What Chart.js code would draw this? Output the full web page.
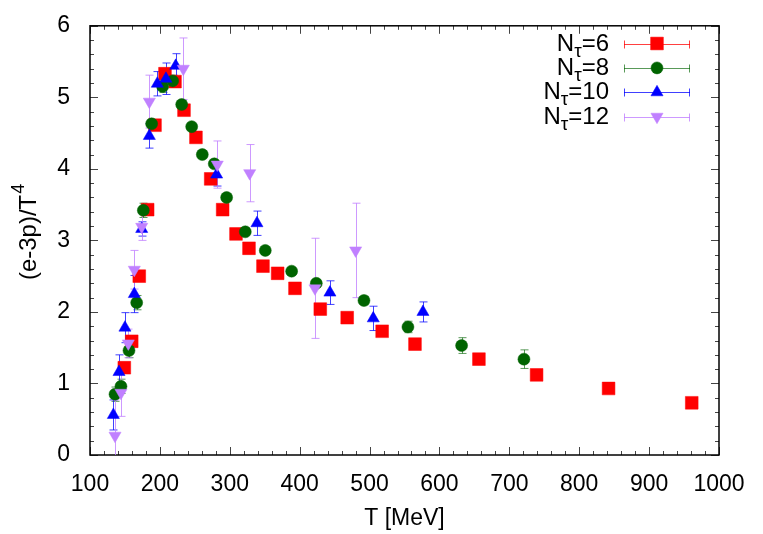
<!DOCTYPE html>
<html><head><meta charset="utf-8">
<script src="https://cdn.jsdelivr.net/npm/chart.js@4/dist/chart.umd.min.js"></script>
<style>html,body{margin:0;padding:0;background:#fff}</style>
</head><body>
<canvas id="c" width="763" height="534"></canvas>
<script>
// ---- data ----
const T6 = [149.1,159.7,170.5,182.5,193,207.3,221.6,234.5,251.6,272.7,289.8,308.9,327.5,347.5,368.5,393.3,429.5,468,518,565,656.5,739,842,961];
const V6 = [1.22,1.59,2.50,3.43,4.61,5.33,5.22,4.82,4.44,3.86,3.43,3.09,2.89,2.64,2.54,2.33,2.04,1.92,1.73,1.55,1.34,1.12,0.93,0.73];
const E6 = [0.03,0.03,0.03,0.03,0.03,0.03,0.03,0.03,0.03,0.03,0.03,0.03,0.03,0.03,0.03,0.03,0.03,0.03,0.03,0.03,0.03,0.03,0.03,0.03];

const T8 = [135.8,144.3,155.8,166.8,176.3,188.2,203.9,218.3,231.2,245.5,260.7,277.8,295.5,322.2,350.8,388.5,423.8,492,554.9,631.7,720.9];
const V8 = [0.85,0.96,1.46,2.13,3.42,4.63,5.15,5.23,4.90,4.59,4.20,4.07,3.60,3.12,2.86,2.57,2.40,2.16,1.79,1.53,1.34];
const E8 = [0.1,0.1,0.1,0.1,0.1,0.06,0.08,0.08,0.05,0.04,0.04,0.04,0.04,0.04,0.04,0.04,0.05,0.06,0.08,0.11,0.13];

const T10 = [133.4,141.5,150,163.4,174,184.9,196.3,208.7,222.6,281.2,338.9,443.3,505.3,576.4];
const V10 = [0.56,1.16,1.78,2.25,3.16,4.46,5.19,5.26,5.44,3.92,3.24,2.27,1.91,2.00];
const E10 = [0.21,0.24,0.21,0.26,0.10,0.17,0.17,0.22,0.17,0.16,0.17,0.165,0.17,0.14];

const T12 = [135.8,144.3,154.8,163.4,174,184.9,233.5,282.1,328.5,421.9,480.1];
const V12 = [0.27,0.87,1.56,2.59,3.19,4.94,5.40,4.06,3.94,2.33,2.86];
const E12 = [0.5,0.33,0.2,0.27,0.19,0.37,0.43,0.33,0.40,0.70,0.66];

const NTAU = ['6','8','10','12'];
const X_TICKS = {min:100, max:1000, major:100, minor:20};
const Y_TICKS = {min:0, max:6, major:1, minor:0.2};
const X_TITLE = 'T [MeV]';
const Y_TITLE_MAIN = '(e-3p)/T';
const Y_TITLE_SUP = '4';

const FONT = '"Liberation Sans", Arial, Helvetica, sans-serif';

function pts(T,V,E){ return T.map((t,i)=>({x:t,y:V[i],e:E[i]})); }

const styles = [
  {color:'#ff0000', err:'rgba(255,0,0,0.75)', style:'rect', r:9, rot:0},
  {color:'#006400', err:'rgba(0,100,0,0.65)', style:'circle', r:6, rot:0},
  {color:'#0000ff', err:'rgba(0,0,255,0.75)', style:'triangle', r:7, rot:0},
  {color:'#c080ff', err:'rgba(192,128,255,0.8)', style:'triangle', r:7, rot:180}
];
const series = [pts(T6,V6,E6), pts(T8,V8,E8), pts(T10,V10,E10), pts(T12,V12,E12)];

const datasets = series.map((d,i)=>({
  label:'Nτ='+NTAU[i],
  data:d,
  order:4-i,
  pointStyle:styles[i].style,
  pointRadius:styles[i].r,
  pointHoverRadius:styles[i].r,
  rotation:styles[i].rot,
  backgroundColor:styles[i].color,
  borderColor:styles[i].color,
  borderWidth:0.5,
  showLine:false,
  errColor:styles[i].err
}));

function drawErr(ctx, px, y1, y2, cap){
  ctx.beginPath();
  ctx.moveTo(px,y1); ctx.lineTo(px,y2);
  ctx.moveTo(px-cap,y1); ctx.lineTo(px+cap,y1);
  ctx.moveTo(px-cap,y2); ctx.lineTo(px+cap,y2);
  ctx.stroke();
}

const framePlugin = {
  id:'frame',
  beforeDatasetsDraw(chart){
    const {ctx, chartArea:a, scales:{x,y}} = chart;
    ctx.save();
    ctx.strokeStyle = '#444'; ctx.lineWidth = 1;
    ctx.beginPath();
    for(let v=X_TICKS.min; v<=X_TICKS.max+1e-6; v+=X_TICKS.minor){
      const isMaj = Math.abs(v/X_TICKS.major - Math.round(v/X_TICKS.major))<1e-6;
      const L = isMaj?8:4;
      const px = Math.round(x.getPixelForValue(v))+0.5;
      ctx.moveTo(px,a.bottom); ctx.lineTo(px,a.bottom-L);
      ctx.moveTo(px,a.top); ctx.lineTo(px,a.top+L);
    }
    for(let v=Y_TICKS.min; v<=Y_TICKS.max+1e-6; v+=Y_TICKS.minor){
      const isMaj = Math.abs(v/Y_TICKS.major - Math.round(v/Y_TICKS.major))<1e-6;
      const L = isMaj?8:4;
      const py = Math.round(y.getPixelForValue(v))+0.5;
      ctx.moveTo(a.left,py); ctx.lineTo(a.left+L,py);
      ctx.moveTo(a.right,py); ctx.lineTo(a.right-L,py);
    }
    ctx.stroke();
    ctx.strokeStyle = '#000'; ctx.lineWidth = 1.5;
    ctx.strokeRect(a.left, a.top, a.right-a.left, a.bottom-a.top);
    // error bars
    ctx.beginPath(); ctx.rect(a.left,a.top,a.right-a.left,a.bottom-a.top); ctx.clip();
    ctx.lineWidth = 1;
    chart.data.datasets.forEach(ds=>{
      ctx.strokeStyle = ds.errColor;
      ds.data.forEach(p=>{
        if(!p.e) return;
        const px = Math.round(x.getPixelForValue(p.x))+0.5;
        drawErr(ctx, px, y.getPixelForValue(p.y+p.e), y.getPixelForValue(p.y-p.e), 4);
      });
    });
    ctx.restore();
  },
  afterDraw(chart){
    const {ctx, chartArea:a} = chart;
    ctx.save();
    // y title with superscript
    ctx.fillStyle = '#000';
    ctx.translate(28, (a.top+a.bottom)/2 - 8);
    ctx.rotate(-Math.PI/2);
    ctx.font = '24px '+FONT;
    const w1 = ctx.measureText(Y_TITLE_MAIN).width;
    ctx.font = '18px '+FONT;
    const w2 = ctx.measureText(Y_TITLE_SUP).width;
    const start = -(w1+w2)/2;
    ctx.textBaseline = 'alphabetic';
    ctx.font = '24px '+FONT;
    ctx.fillText(Y_TITLE_MAIN, start, 8);
    ctx.font = '18px '+FONT;
    ctx.fillText(Y_TITLE_SUP, start+w1+1, -4);
    ctx.restore();

    // legend
    ctx.save();
    const rightX = 609, lx1 = 624, lx2 = 690, mx = 657;
    chart.data.datasets.forEach((ds,i)=>{
      const ly = 43.5 + i*24.4;
      const base = ly + 7;
      ctx.font = '24px '+FONT;
      const wN = ctx.measureText('N').width;
      const rest = '='+NTAU[i];
      const wR = ctx.measureText(rest).width;
      ctx.font = '19px '+FONT;
      const wT = ctx.measureText('τ').width;
      let sx = rightX - (wN+wT+wR);
      ctx.fillStyle = '#000';
      ctx.textBaseline = 'alphabetic';
      ctx.font = '24px '+FONT; ctx.fillText('N', sx, base);
      ctx.font = '19px '+FONT; ctx.fillText('τ', sx+wN, base+6);
      ctx.font = '24px '+FONT; ctx.fillText(rest, sx+wN+wT, base);
      // sample error bar
      ctx.strokeStyle = ds.errColor; ctx.lineWidth = 1;
      const yy = Math.round(ly)+0.5;
      ctx.beginPath();
      ctx.moveTo(lx1,yy); ctx.lineTo(lx2,yy);
      ctx.moveTo(lx1+0.5,yy-4); ctx.lineTo(lx1+0.5,yy+4);
      ctx.moveTo(lx2-0.5,yy-4); ctx.lineTo(lx2-0.5,yy+4);
      ctx.stroke();
      ctx.fillStyle = ds.backgroundColor; ctx.strokeStyle = ds.borderColor; ctx.lineWidth = 0.5;
      Chart.helpers.drawPoint(ctx, {pointStyle:ds.pointStyle, radius:ds.pointRadius, rotation:ds.rotation, borderWidth:0.5}, mx, ly);
    });
    ctx.restore();
  }
};

new Chart(document.getElementById('c'), {
  type:'scatter',
  data:{datasets},
  options:{
    responsive:false,
    animation:false,
    devicePixelRatio:1,
    layout:{padding:{top:25,right:44,left:0,bottom:0}},
    plugins:{legend:{display:false}, tooltip:{enabled:false}},
    scales:{
      x:{
        type:'linear', min:X_TICKS.min, max:X_TICKS.max,
        grid:{display:false}, border:{display:false},
        ticks:{stepSize:X_TICKS.major, maxRotation:0, autoSkip:false, padding:8, color:'#000', font:{family:FONT,size:23},
               callback:(v)=>String(v)},
        title:{display:true, text:X_TITLE, color:'#000', font:{family:FONT,size:23}, padding:{top:0,bottom:2}},
        afterFit(s){ s.height = 79; }
      },
      y:{
        type:'linear', min:Y_TICKS.min, max:Y_TICKS.max,
        grid:{display:false}, border:{display:false},
        ticks:{stepSize:Y_TICKS.major, padding:12, color:'#000', font:{family:FONT,size:23}, callback:(v)=>String(v)},
        afterFit(s){ s.width = 90; }
      }
    }
  },
  plugins:[framePlugin]
});
</script>
</body></html>
